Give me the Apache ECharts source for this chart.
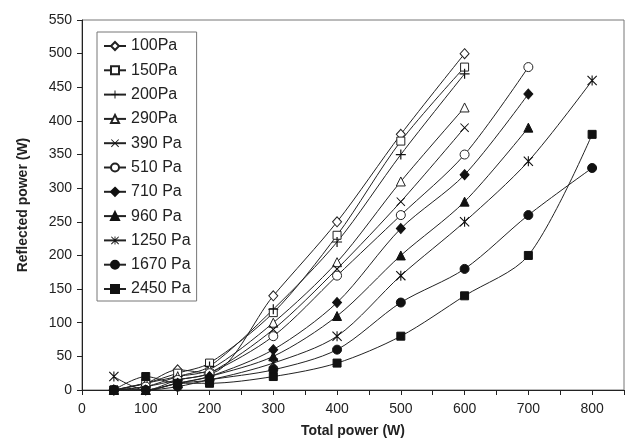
<!DOCTYPE html>
<html>
<head>
<meta charset="utf-8">
<script src="https://cdn.jsdelivr.net/npm/echarts@6/dist/echarts.min.js"></script>
<style>html,body{margin:0;padding:0;background:#fff}#c{width:627px;height:446px}</style>
</head>
<body>
<div id="c"></div>
<script>
const xs = [50, 100, 150, 200, 300, 400, 500, 600, 700, 800];
const names = ['100Pa','150Pa','200Pa','290Pa','390 Pa','510 Pa','710 Pa','960 Pa','1250 Pa','1670 Pa','2450 Pa'];
const p100  = [0, 10, 30, 25, 140, 250, 380, 500];
const p150  = [0, 10, 25, 40, 115, 230, 370, 480];
const p200  = [0, 5, 20, 35, 120, 220, 350, 470];
const p290  = [0, 10, 20, 30, 100, 190, 310, 420];
const p390  = [0, 0, 15, 25, 90, 180, 280, 390];
const p510  = [0, 5, 15, 25, 80, 170, 260, 350, 480];
const p710  = [0, 0, 10, 20, 60, 130, 240, 320, 440];
const p960  = [0, 0, 10, 20, 50, 110, 200, 280, 390];
const p1250 = [20, 0, 10, 15, 40, 80, 170, 250, 340, 460];
const p1670 = [0, 0, 5, 15, 30, 60, 130, 180, 260, 330];
const p2450 = [0, 20, 10, 10, 20, 40, 80, 140, 200, 380];
const allVals = [p100, p150, p200, p290, p390, p510, p710, p960, p1250, p1670, p2450];

const plusPath = 'path://M4.4,0H5.6V4.4H10V5.6H5.6V10H4.4V5.6H0V4.4H4.4Z';
const crossPath = 'path://M0,0.8L0.8,0L10,9.2L9.2,10ZM9.2,0L10,0.8L0.8,10L0,9.2Z';
const starPath = 'path://M0,0.8L0.8,0L10,9.2L9.2,10ZM9.2,0L10,0.8L0.8,10L0,9.2ZM4.45,0H5.55V10H4.45Z';

const styles = [
  {sym:'diamond', size:[9,10], open:true},
  {sym:'rect', size:8, open:true},
  {sym:plusPath, size:10, open:false, thin:true},
  {sym:'triangle', size:9, open:true},
  {sym:crossPath, size:9, open:false, thin:true},
  {sym:'circle', size:9, open:true},
  {sym:'diamond', size:[9,10], open:false},
  {sym:'triangle', size:9, open:false},
  {sym:starPath, size:10, open:false, thin:true},
  {sym:'circle', size:9, open:false},
  {sym:'rect', size:8, open:false}
];

const series = allVals.map((vals, i) => {
  const st = styles[i];
  return {
    name: names[i],
    type: 'line',
    smooth: 0.3,
    data: vals.map((v, j) => [xs[j], v]),
    symbol: st.sym,
    symbolSize: st.size,
    showAllSymbol: true,
    lineStyle: {color: '#222', width: 1},
    itemStyle: st.open
      ? {color: '#fff', borderColor: '#222', borderWidth: 1}
      : {color: '#111', borderColor: '#111', borderWidth: st.thin ? 0 : 1},
    emphasis: {disabled: true},
    z: 2
  };
});

const chart = echarts.init(document.getElementById('c'), null, {renderer: 'canvas'});
chart.setOption({
  animation: false,
  textStyle: {fontFamily: 'Liberation Sans, Arial, sans-serif'},
  grid: {left: 82, top: 20, right: 2, bottom: 56, show: true, borderColor: '#777', borderWidth: 1},
  legend: {
    orient: 'vertical',
    left: 97, top: 32,
    padding: [6, 6, 4, 6],
    borderColor: '#777', borderWidth: 1,
    backgroundColor: '#fff',
    itemWidth: 22, itemHeight: 10,
    itemGap: 8.3,
    textStyle: {fontSize: 16, lineHeight: 16, color: '#222', fontFamily: 'Liberation Sans, Arial, sans-serif'},
    data: names
  },
  xAxis: {
    type: 'value', min: 0, max: 850, interval: 50,
    name: 'Total power (W)', nameLocation: 'middle', nameGap: 34,
    nameTextStyle: {fontSize: 14, fontWeight: 'bold', color: '#222'},
    axisLine: {lineStyle: {color: '#222', width: 1}},
    axisTick: {show: true, length: 5, lineStyle: {color: '#222'}},
    axisLabel: {fontSize: 14, color: '#222', margin: 12,
      formatter: v => (v % 100 === 0 && v <= 800) ? String(v) : ''},
    splitLine: {show: false}
  },
  yAxis: {
    type: 'value', min: 0, max: 550, interval: 50,
    name: 'Reflected power (W)', nameLocation: 'middle', nameGap: 52, nameRotate: 90,
    nameTextStyle: {fontSize: 14, fontWeight: 'bold', color: '#222'},
    axisLine: {show: true, lineStyle: {color: '#222', width: 1}},
    axisTick: {show: true, length: 5, lineStyle: {color: '#222'}},
    axisLabel: {fontSize: 14, color: '#222', margin: 10},
    splitLine: {show: false}
  },
  series: series
});
</script>
</body>
</html>
